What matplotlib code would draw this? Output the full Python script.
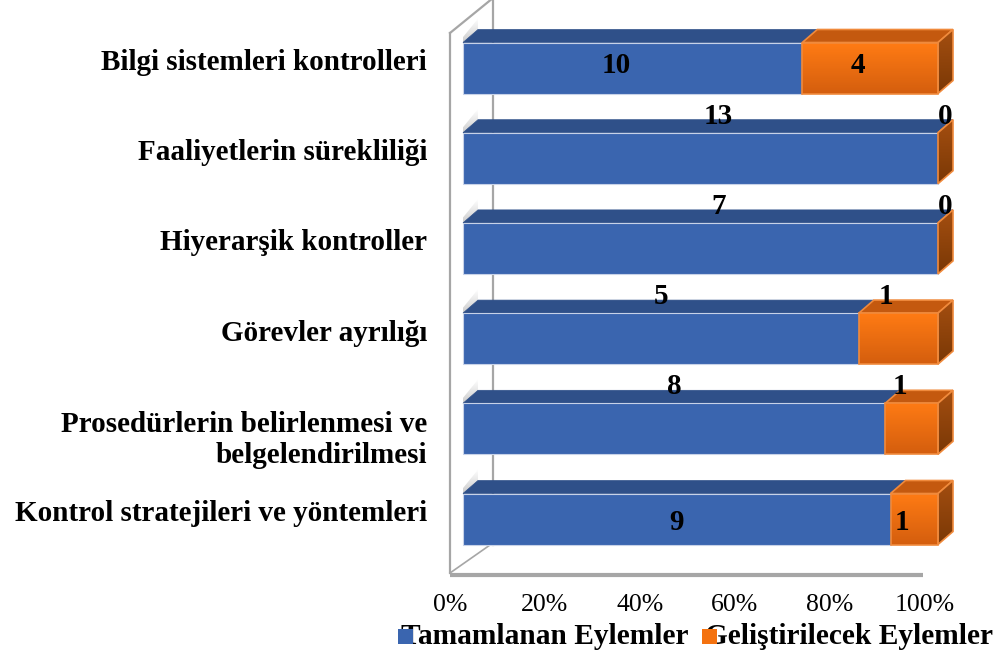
import numpy as np
import matplotlib.pyplot as plt
from matplotlib.colors import to_rgb
from matplotlib.patches import Polygon, Rectangle

categories = ["Bilgi sistemleri kontrolleri",
              "Faaliyetlerin sürekliliği",
              "Hiyerarşik kontroller",
              "Görevler ayrılığı",
              "Prosedürlerin belirlenmesi ve\nbelgelendirilmesi",
              "Kontrol stratejileri ve yöntemleri"]
tamamlanan = [10, 13, 7, 5, 8, 9]
gelistirilecek = [4, 0, 0, 1, 1, 1]
series_names = ["Tamamlanan Eylemler", "Geliştirilecek Eylemler"]
tick_values = [0, 0.2, 0.4, 0.6, 0.8, 1.0]
tick_labels = ["0%", "20%", "40%", "60%", "80%", "100%"]

plt.rcParams['font.family'] = ['Liberation Serif', 'DejaVu Serif']

fig = plt.figure(figsize=(10.03, 6.57), dpi=100)
ax = fig.add_axes([0, 0, 1, 1])
# 1 x-unit = 100 % (475 px), 1 y-unit = one category row (90.2 px)
px_x, px_y = 475.0, 90.2
ax.set_xlim(-463 / px_x, 540 / px_x)
ax.set_ylim(589 / px_y, -68 / px_y)
ax.axis('off')

h = 25.5 / px_y          # half bar height
dx, dy = 15 / px_x, -13 / px_y   # 3d depth offset

# walls
wall_c = '#A6A6A6'
xf, xb = -13 / px_x, 30 / px_x
ax.plot([xf, xf], [-35 / px_y, 505 / px_y], color=wall_c, lw=1.6)
ax.plot([xf, xb], [-35 / px_y, -70 / px_y], color=wall_c, lw=1.6)
ax.plot([xb, xb], [-70 / px_y, 477 / px_y], color=wall_c, lw=1.6)
ax.plot([xf, 27 / px_x], [505 / px_y, 477 / px_y], color=wall_c, lw=1.2)
ax.plot([xf, 460 / px_x], [507 / px_y, 507 / px_y], color=wall_c, lw=3, solid_capstyle='butt')


def grad_fill(pts, c_top, c_bot, z, edge='none', lw=0):
    poly = Polygon(pts, closed=True, facecolor='none', edgecolor=edge, lw=lw, zorder=z + 0.5)
    ax.add_patch(poly)
    pts = np.array(pts)
    g = np.linspace(0, 1, 64)[:, None, None]
    ct, cb = np.array(to_rgb(c_top)), np.array(to_rgb(c_bot))
    img = ct[None, None, :] * (1 - g) + cb[None, None, :] * g
    img = np.repeat(img, 2, axis=1)
    im = ax.imshow(img, extent=[pts[:, 0].min(), pts[:, 0].max(), pts[:, 1].max(), pts[:, 1].min()],
                   aspect='auto', zorder=z, interpolation='bilinear')
    im.set_clip_path(poly)


orange_edge = '#F08A3C'
for i in range(len(categories)):
    vals = [tamamlanan[i], gelistirilecek[i]]
    tot = sum(vals)
    top = i - h
    bot = i + h
    # wall shadow
    grad_fill([(0, top + 0.02), (dx, top + dy), (dx, top + dy - 0.12), (0, top - 0.06)],
              '#FFFFFF', '#C8C8C8', 1)
    left = 0.0
    for j, v in enumerate(vals):
        w = v / tot
        x0, x1 = left, left + w
        if j == 0:
            ax.add_patch(Polygon([(x0, top), (x1, top), (x1 + dx, top + dy), (x0 + dx, top + dy)],
                                 closed=True, facecolor='#2F5089', edgecolor='#2F5089', lw=0.5, zorder=3))
            ax.add_patch(Rectangle((x0, top), w, 2 * h, facecolor='#3A65AF', edgecolor='#C7D2E8',
                                   lw=0.8, zorder=4))
        else:
            ax.add_patch(Polygon([(x0, top), (x1, top), (x1 + dx, top + dy), (x0 + dx, top + dy)],
                                 closed=True, facecolor='#C4590F', edgecolor=orange_edge, lw=1.2, zorder=5))
            grad_fill([(x1, top), (x1 + dx, top + dy), (x1 + dx, bot + dy), (x1, bot)],
                      '#A44E10', '#7A3806', 5, orange_edge, 1.2)
            if w > 0:
                grad_fill([(x0, top), (x1, top), (x1, bot), (x0, bot)],
                          '#FF7B14', '#D45E0E', 5, orange_edge, 1.2)
        left = x1

    # data labels (Excel 3D placement: middle rows sit above the bar)
    if i == 0:
        ly = i - 3 / px_y
    elif i == len(categories) - 1:
        ly = i + 3 / px_y
    else:
        ly = i - 42 / px_y
    b_w = vals[0] / tot
    bx = b_w / 2 + (0 if i > 2 else (18 / px_x if i > 0 else -16 / px_x))
    ax.text(bx, ly, str(vals[0]), ha='center', va='center', fontsize=21, fontweight='bold',
            color='black', zorder=10)
    if vals[1] > 0:
        ox = b_w + (1 - b_w) / 2 - 12 / px_x
    else:
        ox = 1 + dx / 2
    ax.text(ox, ly, str(vals[1]), ha='center', va='center', fontsize=21, fontweight='bold',
            color='black', zorder=10)

    # category labels
    ax.text(-36 / px_x, i - 0.06 + (0.18 if '\n' in categories[i] else 0), categories[i],
            ha='right', va='center', fontsize=21, fontweight='bold', linespacing=1.2)

# x tick labels
for v, lab in zip(tick_values, tick_labels):
    ax.text(v - 13 / px_x, 537 / px_y, lab, ha='center', va='center', fontsize=18.5)

# legend
ly = 568 / px_y
for x_sq, col, name in [(-65 / px_x, '#3A65AF', series_names[0]),
                        (239 / px_x, '#F4720F', series_names[1])]:
    ax.add_patch(Rectangle((x_sq, ly - 7.5 / px_y), 15 / px_x, 15 / px_y, facecolor=col,
                           edgecolor='none', zorder=4))
    ax.text(x_sq + 3 / px_x, ly, name, ha='left', va='center', fontsize=21.2, fontweight='bold', zorder=3)

fig.savefig('out.png', dpi=100)
